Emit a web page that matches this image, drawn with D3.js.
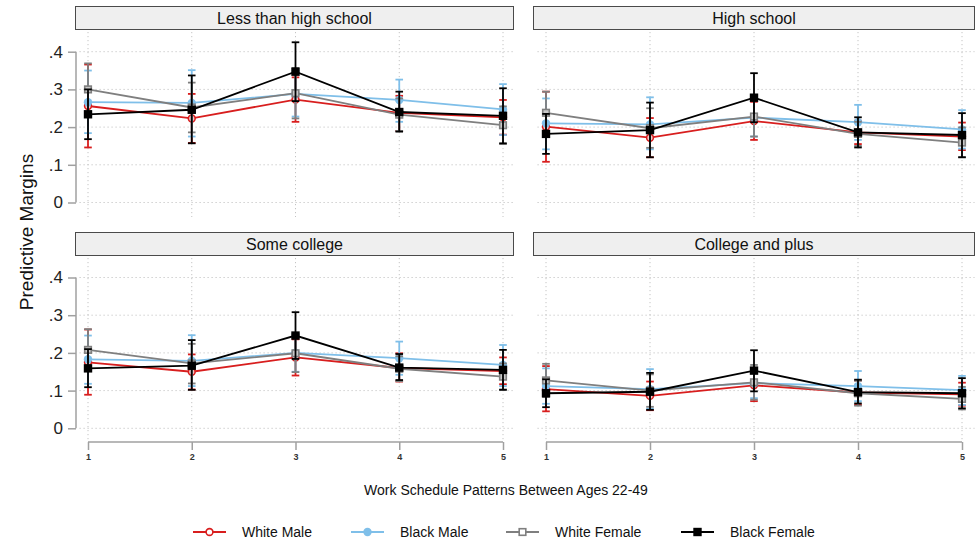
<!DOCTYPE html>
<html>
<head>
<meta charset="utf-8">
<script src="https://cdn.jsdelivr.net/npm/d3@7"></script>
<style>
  html, body { margin: 0; padding: 0; background: #fff; }
  svg { display: block; font-family: "Liberation Sans", Arial, sans-serif; }
</style>
</head>
<body>
<svg id="chart" width="977" height="544"></svg>
<script>
// Work schedule pattern categories (x axis)
const schedules = [1, 2, 3, 4, 5];
const yTicks = [0, 0.1, 0.2, 0.3, 0.4];
const yTickLabels = ["0", ".1", ".2", ".3", ".4"];

// Education panels
const panelTitles = ["Less than high school", "High school", "Some college", "College and plus"];

// Series
const seriesNames = ["White Male", "Black Male", "White Female", "Black Female"];

// Predictive margins, one row per education panel
const whiteMaleEst = [[.256, .223, .273, .238, .226], [.201, .172, .216, .186, .175], [.175, .150, .188, .160, .152], [.104, .086, .114, .095, .090]];
const whiteMaleLo  = [[.146, .158, .214, .190, .180], [.108, .120, .166, .155, .139], [.089, .103, .140, .124, .117], [.045, .048, .072, .062, .060]];
const whiteMaleHi  = [[.366, .288, .332, .283, .272], [.294, .224, .267, .217, .212], [.262, .196, .236, .199, .188], [.165, .124, .155, .127, .121]];

const blackMaleEst = [[.266, .264, .288, .272, .247], [.210, .207, .225, .213, .194], [.183, .179, .200, .186, .168], [.112, .104, .120, .112, .101]];
const blackMaleLo  = [[.184, .175, .228, .214, .179], [.141, .141, .175, .166, .143], [.118, .112, .150, .142, .112], [.065, .052, .080, .072, .062]];
const blackMaleHi  = [[.350, .351, .349, .326, .314], [.276, .279, .275, .259, .245], [.246, .247, .250, .230, .221], [.159, .157, .160, .152, .139]];

const whiteFemaleEst = [[.300, .252, .290, .233, .205], [.238, .197, .228, .182, .159], [.208, .172, .199, .158, .137], [.127, .100, .122, .093, .078]];
const whiteFemaleLo  = [[.231, .186, .223, .190, .155], [.182, .145, .175, .150, .120], [.153, .119, .149, .125, .103], [.083, .057, .076, .060, .050]];
const whiteFemaleHi  = [[.369, .318, .357, .276, .255], [.294, .250, .281, .214, .199], [.263, .224, .249, .191, .172], [.171, .143, .168, .126, .110]];

const blackFemaleEst = [[.234, .246, .347, .240, .230], [.182, .192, .278, .186, .179], [.159, .166, .246, .161, .155], [.093, .097, .153, .096, .093]];
const blackFemaleLo  = [[.168, .157, .269, .188, .157], [.129, .120, .213, .146, .120], [.109, .102, .184, .128, .102], [.056, .049, .098, .066, .053]];
const blackFemaleHi  = [[.300, .337, .425, .294, .303], [.235, .265, .343, .226, .237], [.210, .234, .308, .197, .208], [.130, .147, .207, .129, .133]];

const seriesData = [
  { name: seriesNames[0], est: whiteMaleEst, lo: whiteMaleLo, hi: whiteMaleHi, color: "#d81e1e", marker: "hollowCircle" },
  { name: seriesNames[1], est: blackMaleEst, lo: blackMaleLo, hi: blackMaleHi, color: "#7fbfe9", marker: "circle" },
  { name: seriesNames[2], est: whiteFemaleEst, lo: whiteFemaleLo, hi: whiteFemaleHi, color: "#7f7f7f", marker: "hollowSquare" },
  { name: seriesNames[3], est: blackFemaleEst, lo: blackFemaleLo, hi: blackFemaleHi, color: "#000000", marker: "square" }
];

const svg = d3.select("#chart");

// Panel geometry: column x-extents and row y-extents
const cols = [
  { boxL: 75.5, boxR: 513.5, x0: 88, x1: 503 },
  { boxL: 533.5, boxR: 974.5, x0: 546, x1: 962 }
];
const rows = [
  { headTop: 6.5, headBot: 29.5, yZero: 202.5, yTop: 51.7, gridTop: 32, gridBot: 217 },
  { headTop: 232.5, headBot: 255.5, yZero: 428.3, yTop: 277.5, gridTop: 258, gridBot: 442 }
];

function drawMarker(g, type, color, cx, cy, scale) {
  const k = scale || 1;
  if (type === "circle") {
    g.append("circle").attr("cx", cx).attr("cy", cy).attr("r", 4.2 * k).attr("fill", color);
  } else if (type === "hollowCircle") {
    g.append("circle").attr("cx", cx).attr("cy", cy).attr("r", 3.4 * k)
      .attr("fill", "#f6c8c8").attr("stroke", color).attr("stroke-width", 1.6);
  } else if (type === "square") {
    const s = 8.4 * k;
    g.append("rect").attr("x", cx - s / 2).attr("y", cy - s / 2).attr("width", s).attr("height", s).attr("fill", color);
  } else if (type === "hollowSquare") {
    const s = 6.6 * k;
    g.append("rect").attr("x", cx - s / 2).attr("y", cy - s / 2).attr("width", s).attr("height", s)
      .attr("fill", "#c9c9c9").attr("stroke", color).attr("stroke-width", 1.6);
  }
}

panelTitles.forEach((title, p) => {
  const col = cols[p % 2];
  const row = rows[Math.floor(p / 2)];
  const x = d3.scaleLinear().domain([1, 5]).range([col.x0, col.x1]);
  const y = d3.scaleLinear().domain([0, 0.4]).range([row.yZero, row.yTop]);
  const g = svg.append("g");

  // dotted grid
  const grid = g.append("g").attr("stroke", "#c4c4c4").attr("stroke-width", 1).attr("stroke-dasharray", "1.2,2.8");
  yTicks.forEach(t => {
    grid.append("line").attr("x1", col.boxL + 4).attr("x2", col.boxR).attr("y1", y(t)).attr("y2", y(t));
  });
  schedules.forEach(s => {
    grid.append("line").attr("x1", x(s)).attr("x2", x(s)).attr("y1", row.gridTop).attr("y2", row.gridBot);
  });

  // header strip
  g.append("rect").attr("x", col.boxL).attr("y", row.headTop)
    .attr("width", col.boxR - col.boxL).attr("height", row.headBot - row.headTop)
    .attr("fill", "#efefef").attr("stroke", "#4a4a4a").attr("stroke-width", 1);
  g.append("text").attr("x", (col.boxL + col.boxR) / 2).attr("y", (row.headTop + row.headBot) / 2 + 5.5)
    .attr("text-anchor", "middle").attr("font-size", 16).attr("fill", "#111").text(title);

  // y axis on the left column
  if (p % 2 === 0) {
    const yAxis = d3.axisLeft(y).tickValues(yTicks).tickFormat((d, i) => yTickLabels[i]).tickSize(8).tickPadding(5);
    const ya = g.append("g").attr("transform", `translate(76,0)`).call(yAxis);
    ya.select(".domain").attr("stroke", "#a0a0a0").attr("stroke-width", 1.5).attr("d", `M-0,${y(0)}V${y(0.4)}`);
    ya.selectAll(".tick line").attr("stroke", "#a0a0a0").attr("stroke-width", 1.5);
    ya.selectAll(".tick text").attr("font-size", 17).attr("fill", "#222").attr("font-family", "Liberation Sans, Arial, sans-serif");
  }

  // x axis on the bottom row
  if (p >= 2) {
    const xAxis = d3.axisBottom(x).tickValues(schedules).tickFormat(d3.format("d")).tickSize(8).tickPadding(4);
    const xa = g.append("g").attr("transform", `translate(0,442)`).call(xAxis);
    xa.select(".domain").attr("stroke", "#a0a0a0").attr("stroke-width", 1.5).attr("d", `M${x(1)},0H${x(5)}`);
    xa.selectAll(".tick line").attr("stroke", "#a0a0a0").attr("stroke-width", 1.5);
    xa.selectAll(".tick text").attr("font-size", 9).attr("fill", "#333").attr("font-weight", "bold")
      .attr("font-family", "Liberation Sans, Arial, sans-serif");
  }

  // series: confidence intervals, connecting line, markers
  seriesData.forEach(sr => {
    const sg = g.append("g");
    const capW = 3.8;
    schedules.forEach((s, i) => {
      const cx = x(s);
      const lo = y(sr.lo[p][i]), hi = y(sr.hi[p][i]);
      sg.append("line").attr("x1", cx).attr("x2", cx).attr("y1", lo).attr("y2", hi)
        .attr("stroke", sr.color).attr("stroke-width", 1.8);
      [lo, hi].forEach(yy => sg.append("line").attr("x1", cx - capW).attr("x2", cx + capW)
        .attr("y1", yy).attr("y2", yy).attr("stroke", sr.color).attr("stroke-width", 1.8));
    });
    const line = d3.line().x((d, i) => x(schedules[i])).y(d => y(d));
    sg.append("path").attr("d", line(sr.est[p])).attr("fill", "none")
      .attr("stroke", sr.color).attr("stroke-width", 1.8);
    schedules.forEach((s, i) => drawMarker(sg, sr.marker, sr.color, x(s), y(sr.est[p][i])));
  });
});

// axis titles
svg.append("text").attr("transform", "translate(33,232) rotate(-90)")
  .attr("text-anchor", "middle").attr("font-size", 19).attr("fill", "#111").text("Predictive Margins");
svg.append("text").attr("x", 506).attr("y", 495)
  .attr("text-anchor", "middle").attr("font-size", 14).attr("fill", "#111").text("Work Schedule Patterns Between Ages 22-49");

// legend
const legendX = [193, 351, 506, 681];
seriesData.forEach((sr, i) => {
  const lg = svg.append("g");
  const x0 = legendX[i], yy = 532;
  lg.append("line").attr("x1", x0).attr("x2", x0 + 33).attr("y1", yy).attr("y2", yy)
    .attr("stroke", sr.color).attr("stroke-width", 2);
  drawMarker(lg, sr.marker, sr.color, x0 + 16.5, yy, 1);
  if (sr.marker === "hollowCircle") lg.select("circle").attr("fill", "#fff");
  if (sr.marker === "hollowSquare") lg.select("rect").attr("fill", "#fff");
  lg.append("text").attr("x", x0 + 49).attr("y", yy + 5).attr("font-size", 14).attr("fill", "#111").text(sr.name);
});
</script>
</body>
</html>
